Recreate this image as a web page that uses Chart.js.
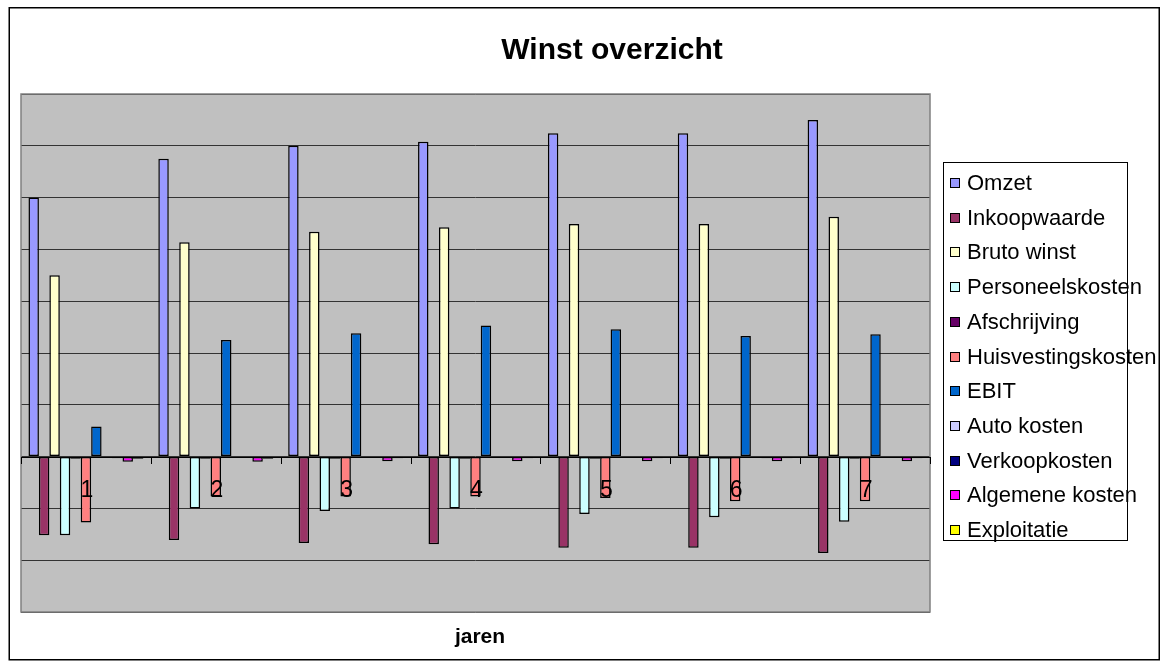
<!DOCTYPE html>
<html>
<head>
<meta charset="utf-8">
<script src="https://cdn.jsdelivr.net/npm/chart.js@4.4.1/dist/chart.umd.min.js"></script>
<style>
  html, body { margin: 0; padding: 0; background: #ffffff; }
  #wrap { width: 1167px; height: 665px; position: relative; }
  canvas { display: block; }
</style>
</head>
<body>
<div id="wrap"><canvas id="c" width="1167" height="665"></canvas></div>
<script>
// ---- data ----
const categories = ['1', '2', '3', '4', '5', '6', '7'];
const omzet              = [500, 575, 600, 608, 624, 624, 650];
const inkoopwaarde       = [-152, -161, -167, -169, -176, -176, -186];
const brutoWinst         = [350, 414, 434, 443, 449, 449, 463];
const personeelskosten   = [-152, -100, -105, -100, -111, -117, -126];
const afschrijving       = [-4, -4, -4, -4, -4, -4, -4];
const huisvestingskosten = [-127, -77, -77, -77, -80, -86, -86];
const ebit               = [58, 225, 238, 253, 246, 233, 236];
const autoKosten         = [0, 0, 0, 0, 0, 0, 0];
const verkoopkosten      = [-3, 0, 0, 0, 0, -3, 0];
const algemeneKosten     = [-10, -10, -9, -9, -9, -9, -9];
const exploitatie        = [-4, -4, -3, -3, -3, -3, -3];

const seriesNames = ['Omzet', 'Inkoopwaarde', 'Bruto winst', 'Personeelskosten', 'Afschrijving',
  'Huisvestingskosten', 'EBIT', 'Auto kosten', 'Verkoopkosten', 'Algemene kosten', 'Exploitatie'];
const seriesValues = [omzet, inkoopwaarde, brutoWinst, personeelskosten, afschrijving,
  huisvestingskosten, ebit, autoKosten, verkoopkosten, algemeneKosten, exploitatie];
const seriesColors = ['#9999FF', '#993366', '#FFFFCC', '#CCFFFF', '#660066',
  '#FF8080', '#0066CC', '#CCCCFF', '#000080', '#FF00FF', '#FFFF00'];

const titleText = 'Winst overzicht';
const xTitleText = 'jaren';
const yMin = -300, yMax = 700, yStep = 100;

const FONT = '"Liberation Sans", Arial, sans-serif';

const decorPlugin = {
  id: 'decor',
  beforeDraw(chart) {
    const ctx = chart.ctx, a = chart.chartArea;
    ctx.save();
    ctx.fillStyle = '#ffffff';
    ctx.fillRect(0, 0, chart.width, chart.height);
    // outer border
    ctx.strokeStyle = '#000000';
    ctx.lineWidth = 1.5;
    ctx.strokeRect(9.25, 7.75, 1150, 652);
    // plot background
    ctx.fillStyle = '#C0C0C0';
    ctx.fillRect(a.left, a.top, a.right - a.left, a.bottom - a.top);
    ctx.restore();
  },
  afterDraw(chart) {
    const ctx = chart.ctx, a = chart.chartArea;
    const xs = chart.scales.x, ys = chart.scales.y;
    const y0 = ys.getPixelForValue(0);
    ctx.save();
    // plot border
    ctx.strokeStyle = '#808080';
    ctx.lineWidth = 1.5;
    ctx.strokeRect(a.left, a.top, a.right - a.left, a.bottom - a.top);
    // category axis line at zero
    ctx.strokeStyle = '#000000';
    ctx.lineWidth = 1;
    ctx.beginPath();
    ctx.moveTo(a.left, Math.round(y0) + 0.5);
    ctx.lineTo(a.right, Math.round(y0) + 0.5);
    // tick marks at category boundaries
    const n = categories.length;
    const w = (a.right - a.left) / n;
    for (let i = 0; i <= n; i++) {
      const x = Math.round(a.left + i * w) + 0.5;
      ctx.moveTo(x, Math.round(y0));
      ctx.lineTo(x, Math.round(y0) + 7);
    }
    ctx.stroke();
    // category labels
    ctx.fillStyle = '#000000';
    ctx.font = '23px ' + FONT;
    ctx.textAlign = 'center';
    ctx.textBaseline = 'middle';
    categories.forEach((c, i) => {
      ctx.fillText(c, xs.getPixelForValue(i) + 1, y0 + 34);
    });
    // title
    ctx.font = 'bold 30px ' + FONT;
    ctx.textBaseline = 'alphabetic';
    ctx.fillText(titleText, 612, 59);
    // x axis title
    ctx.font = 'bold 21px ' + FONT;
    ctx.fillText(xTitleText, 480, 643);
    // legend
    const lx = 943, ly = 162, lw = 184, lh = 378;
    ctx.fillStyle = '#ffffff';
    ctx.fillRect(lx, ly, lw, lh);
    ctx.strokeStyle = '#000000';
    ctx.lineWidth = 1;
    ctx.strokeRect(lx + 0.5, ly + 0.5, lw, lh);
    ctx.font = '22px ' + FONT;
    ctx.textAlign = 'left';
    ctx.textBaseline = 'middle';
    chart.data.datasets.forEach((ds, i) => {
      const cy = 183 + i * 34.7;
      ctx.fillStyle = ds.backgroundColor;
      ctx.fillRect(950, Math.round(cy) - 5, 10, 10);
      ctx.strokeStyle = '#000000';
      ctx.strokeRect(950.5, Math.round(cy) - 4.5, 9, 9);
      ctx.fillStyle = '#000000';
      ctx.fillText(ds.label, 967, cy + 1);
    });
    ctx.restore();
  }
};

new Chart(document.getElementById('c'), {
  type: 'bar',
  data: {
    labels: categories,
    datasets: seriesNames.map((name, i) => ({
      label: name,
      data: seriesValues[i],
      backgroundColor: seriesColors[i],
      borderColor: '#000000',
      borderWidth: 1.5,
      borderSkipped: false,
      categoryPercentage: 0.885,
      barPercentage: 1.0
    }))
  },
  options: {
    responsive: false,
    animation: false,
    devicePixelRatio: 1,
    layout: { padding: { left: 21, top: 94, right: 237, bottom: 53 } },
    plugins: {
      legend: { display: false },
      title: { display: false },
      tooltip: { enabled: false }
    },
    scales: {
      x: {
        display: true,
        ticks: { display: false },
        grid: { display: false, drawTicks: false },
        border: { display: false }
      },
      y: {
        min: yMin, max: yMax,
        ticks: { display: false, stepSize: yStep },
        grid: { color: '#333333', lineWidth: 1, drawTicks: false },
        border: { display: false }
      }
    }
  },
  plugins: [decorPlugin]
});
</script>
</body>
</html>
